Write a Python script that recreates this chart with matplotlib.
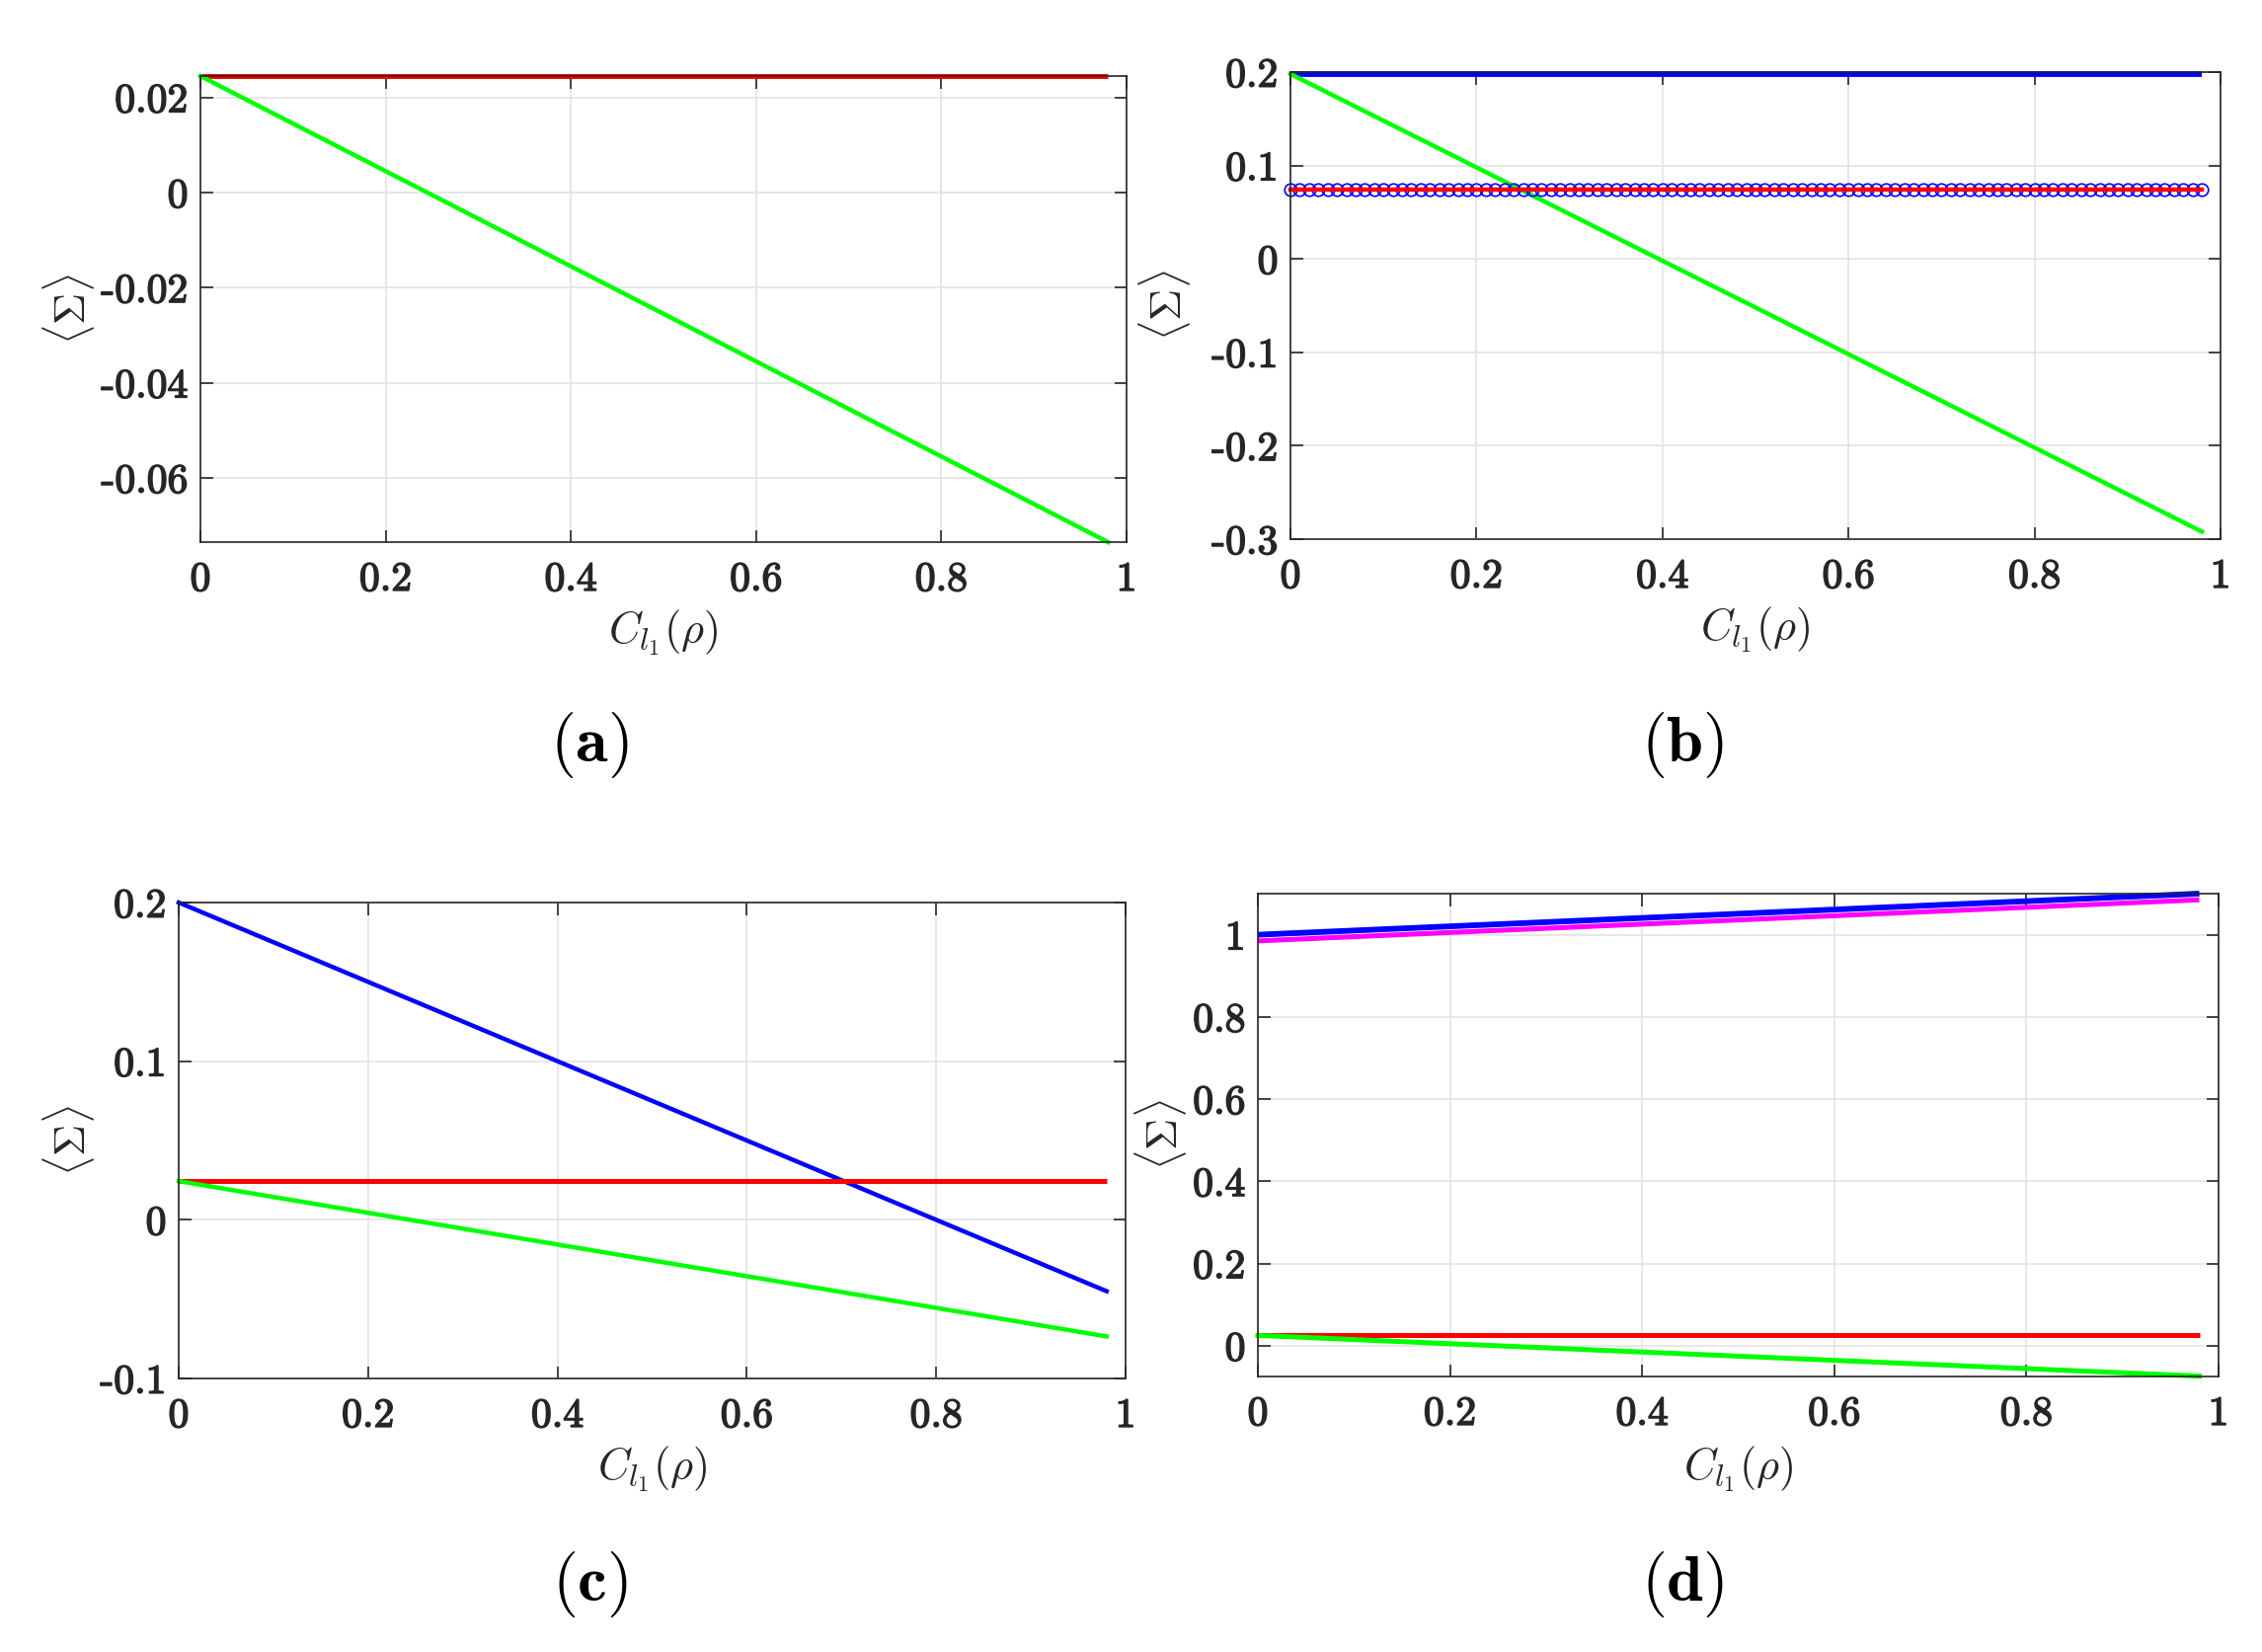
import numpy as np
import matplotlib
matplotlib.use("Agg")
import matplotlib.pyplot as plt
import matplotlib.patheffects as pe

plt.rcParams['mathtext.fontset'] = 'cm'
plt.rcParams['font.family'] = ['cmr10', 'DejaVu Serif']
plt.rcParams['axes.unicode_minus'] = False

# coherence axis: lines run from 0 to 0.98
x_ends = [0.0, 0.98]
x_grid = np.round(np.arange(0, 0.985, 0.01), 2)

# (a)
a_red = [0.0245, 0.0245]
a_green = [0.0245, -0.0735]
# (b)
b_blue = [0.198, 0.198]
b_green = [0.198, -0.292]
b_red_level = 0.074
# (c)
c_blue = [0.2, -0.045]
c_red = [0.0244, 0.0244]
c_green = [0.0244, -0.0735]
# (d)
d_blue = [1.0, 1.1]
d_magenta = [0.985, 1.085]
d_red = [0.025, 0.025]
d_green = [0.025, -0.074]

xticks = [0, 0.2, 0.4, 0.6, 0.8, 1]
xticklabels = ['0', '0.2', '0.4', '0.6', '0.8', '1']

W, H = 2291, 1673
fig = plt.figure(figsize=(W / 100, H / 100), dpi=100)

heavy = [pe.withStroke(linewidth=1.1, foreground='#262626')]


def px_axes(l, r, t, b):
    return fig.add_axes([l / W, 1 - b / H, (r - l) / W, (b - t) / H])


def style(ax, ylim, yticks, yticklabels):
    ax.set_xlim(0, 1)
    ax.set_ylim(*ylim)
    ax.set_xticks(xticks)
    ax.set_xticklabels(xticklabels)
    ax.set_yticks(yticks)
    ax.set_yticklabels(yticklabels)
    ax.grid(True, color='#e3e3e3', lw=1.2)
    ax.set_axisbelow(True)
    ax.tick_params(direction='in', length=9, width=1.2, top=True, right=True,
                   labelsize=30, colors='#262626', pad=9)
    ax.tick_params(axis='x', pad=14)
    for t in ax.get_xticklabels() + ax.get_yticklabels():
        t.set_path_effects(heavy)
    for s in ax.spines.values():
        s.set_color('#262626')
        s.set_linewidth(1.2)


def labels(ax, ylab_x, xlab_y, tag, tag_x, tag_y):
    pos = ax.get_position()
    fig.text(ylab_x / W, (pos.y0 + pos.y1) / 2, r'$\langle\Sigma\rangle$', rotation=90,
             ha='center', va='center', fontsize=32, color='#262626')
    fig.text((pos.x0 + pos.x1) / 2, 1 - xlab_y / H, r'$C_{l_1}(\rho)$',
             ha='center', va='center', fontsize=32, color='#262626')
    fig.text(tag_x / W, 1 - tag_y / H, r'$\mathbf{' + tag + '}$', ha='center',
             va='center', fontsize=48, color='black')


lw = 3.6

# panel (a)
ax = px_axes(203, 1141, 77, 549)
ax.plot(x_ends, a_red, color=(1, 0, 0), lw=lw, clip_on=False, solid_capstyle='butt')
ax.plot(x_ends, a_green, color=(0, 1, 0), lw=3.2, clip_on=False)
style(ax, (-0.0735, 0.0245), [-0.06, -0.04, -0.02, 0, 0.02],
      ['-0.06', '-0.04', '-0.02', '0', '0.02'])
labels(ax, 70, 641, '(a)', 597, 754)

# panel (b)
ax = px_axes(1307, 2249, 73, 546)
ax.plot(x_ends, b_blue, color=(0, 0, 1), lw=lw + 0.6, clip_on=False, solid_capstyle='butt')
ax.plot(x_ends, b_green, color=(0, 1, 0), lw=3.2, clip_on=False)
ax.plot(x_grid, np.full(len(x_grid), b_red_level), ls='none', marker='o', ms=9,
        mfc='none', mec=(0, 0, 1), mew=1.2, clip_on=False)
ax.plot(x_ends, [b_red_level, b_red_level], color=(1, 0, 0), lw=3.2, clip_on=False)
style(ax, (-0.3, 0.2), [-0.3, -0.2, -0.1, 0, 0.1, 0.2],
      ['-0.3', '-0.2', '-0.1', '0', '0.1', '0.2'])
labels(ax, 1179, 638, '(b)', 1704, 754)

# panel (c)
ax = px_axes(181, 1140, 914, 1396)
ax.plot(x_ends, c_blue, color=(0, 0, 1), lw=3.2, clip_on=False)
ax.plot(x_ends, c_red, color=(1, 0, 0), lw=lw, clip_on=False, solid_capstyle='butt')
ax.plot(x_ends, c_green, color=(0, 1, 0), lw=3.2, clip_on=False)
style(ax, (-0.1, 0.2), [-0.1, 0, 0.1, 0.2], ['-0.1', '0', '0.1', '0.2'])
labels(ax, 70, 1488, '(c)', 597, 1605)

# panel (d)
ax = px_axes(1274, 2247, 905, 1394)
ax.plot(x_ends, d_blue, color=(0, 0, 1), lw=lw + 0.6, clip_on=False, solid_capstyle='butt')
ax.plot(x_ends, d_magenta, color=(1, 0, 1), lw=lw, clip_on=False, solid_capstyle='butt')
ax.plot(x_ends, d_red, color=(1, 0, 0), lw=lw, clip_on=False, solid_capstyle='butt')
ax.plot(x_ends, d_green, color=(0, 1, 0), lw=lw, clip_on=False)
style(ax, (-0.075, 1.1), [0, 0.2, 0.4, 0.6, 0.8, 1],
      ['0', '0.2', '0.4', '0.6', '0.8', '1'])
labels(ax, 1176, 1488, '(d)', 1704, 1605)

fig.savefig('out.png', dpi=100, facecolor='white')
